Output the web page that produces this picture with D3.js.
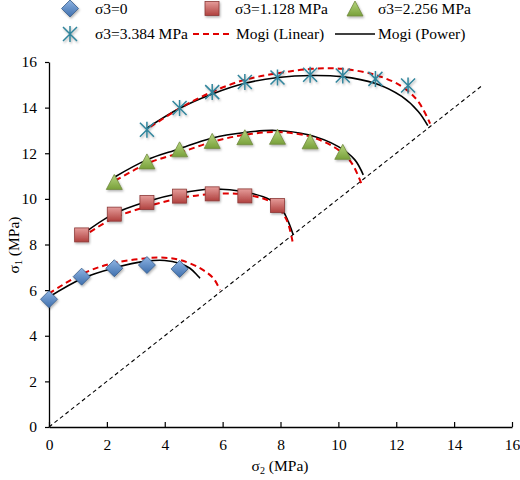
<!DOCTYPE html>
<html><head><meta charset="utf-8">
<script src="https://cdn.jsdelivr.net/npm/d3@7"></script>
<style>body{margin:0;background:#fff}svg{display:block}text{font-family:"Liberation Serif","Times New Roman",serif;fill:#000}</style>
</head><body>
<svg id="c" width="520" height="480"></svg>
<script>
// ---- data ----
const xTicks = [0,2,4,6,8,10,12,14,16];
const yTicks = [0,2,4,6,8,10,12,14,16];
const legendLabels = ["σ3=0","σ3=1.128 MPa","σ3=2.256 MPa","σ3=3.384 MPa","Mogi (Linear)","Mogi (Power)"];

const s0x = [0, 1.128, 2.256, 3.384, 4.512];
const s0y = [5.6, 6.59, 6.96, 7.1, 6.93];
const s1x = [1.128, 2.256, 3.384, 4.512, 5.64, 6.768, 7.896];
const s1y = [8.42, 9.33, 9.84, 10.12, 10.22, 10.13, 9.71];
const s2x = [2.256, 3.384, 4.512, 5.64, 6.768, 7.896, 9.024, 10.152];
const s2y = [10.72, 11.62, 12.15, 12.52, 12.68, 12.7, 12.5, 12.04];
const s3x = [3.384, 4.512, 5.64, 6.768, 7.896, 9.024, 10.152, 11.28, 12.408];
const s3y = [13.03, 13.98, 14.68, 15.12, 15.32, 15.44, 15.41, 15.26, 14.97];

const power0 = [[0,5.7],[1.13,6.5],[2.22,6.96],[3.38,7.27],[4.0,7.3],[4.5,7.18],[4.87,6.96],[5.22,6.52]];
const linear0 = [[0,5.85],[1.19,6.74],[2.22,7.18],[3.38,7.4],[4.0,7.42],[4.53,7.32],[5.22,6.96],[5.68,6.52],[5.91,6.0]];
const power1 = [[1.128,8.42],[2.22,9.33],[3.38,9.88],[4.53,10.25],[5.68,10.43],[6.71,10.32],[7.64,9.96],[8.1,9.44],[8.27,9.0],[8.44,8.42]];
const linear1 = [[1.128,8.3],[2.22,9.15],[3.38,9.66],[4.53,10.03],[5.68,10.22],[6.83,10.18],[7.75,9.81],[8.21,9.08],[8.42,8.1]];
const power2 = [[2.256,10.95],[3.38,11.71],[4.47,12.18],[5.62,12.66],[6.77,12.91],[7.81,13.0],[8.96,12.81],[10.0,12.29],[10.57,11.71],[10.86,11.05]];
const linear2 = [[2.3,10.8],[3.43,11.57],[4.47,12.0],[5.62,12.49],[6.77,12.81],[7.92,12.93],[9.08,12.71],[10.0,12.15],[10.46,11.57],[10.8,10.65]];
const power3 = [[3.384,13.1],[4.53,13.98],[5.62,14.59],[6.77,15.07],[7.92,15.32],[9.08,15.41],[10.11,15.36],[11.26,15.07],[12.19,14.49],[12.76,13.83],[13.09,13.21]];
const linear3 = [[3.5,13.15],[4.53,13.98],[5.62,14.68],[6.77,15.22],[7.92,15.51],[9.08,15.7],[10.11,15.7],[11.26,15.44],[12.19,14.93],[12.76,14.27],[13.17,13.3]];
const diagonal = [[0,0],[15,15]];

// ---- layout ----
const svg = d3.select("#c");
const x = d3.scaleLinear().domain([0,16]).range([49,512]);
const y = d3.scaleLinear().domain([0,16]).range([427,62]);
const FS = 15.5;

const defs = svg.append("defs");
function grad(id, c1, c2){
  const g = defs.append("linearGradient").attr("id",id).attr("x1",0).attr("y1",0).attr("x2",0).attr("y2",1);
  g.append("stop").attr("offset","0%").attr("stop-color",c1);
  g.append("stop").attr("offset","100%").attr("stop-color",c2);
}
grad("gBlue","#8db3e2","#3f6fad");
grad("gRed","#e59c9a","#b0413e");
grad("gGreen","#b7d67f","#78a03a");
const f = defs.append("filter").attr("id","sh").attr("x","-50%").attr("y","-50%").attr("width","200%").attr("height","200%");
f.append("feDropShadow").attr("dx",1).attr("dy",1.5).attr("stdDeviation",1.2).attr("flood-color","#000").attr("flood-opacity",0.3);

// axes
const xAxis = d3.axisBottom(x).tickValues(xTicks).tickSizeInner(-5).tickSizeOuter(0).tickPadding(12).tickFormat(d3.format("d"));
const gx = svg.append("g").attr("transform",`translate(0,${y(0)})`).call(xAxis);
const yAxis = d3.axisLeft(y).tickValues(yTicks).tickSizeInner(4).tickSizeOuter(0).tickPadding(8).tickFormat(d3.format("d"));
const gy = svg.append("g").attr("transform",`translate(${x(0)},0)`).call(yAxis);
[gx,gy].forEach(g=>{
  g.selectAll("path.domain").attr("stroke","#000").attr("stroke-width",1.3);
  g.selectAll(".tick line").attr("stroke","#000").attr("stroke-width",1.2);
  g.selectAll(".tick text").style("font-family",'"Liberation Serif",serif').style("font-size",FS+"px").attr("fill","#000");
});

// axis titles
const xt = svg.append("text").attr("x",280).attr("y",471).attr("text-anchor","middle").style("font-size",FS+"px");
xt.append("tspan").text("σ");
xt.append("tspan").text("2").style("font-size","10px").attr("dy",3);
xt.append("tspan").text(" (MPa)").attr("dy",-3);
const yt = svg.append("text").attr("transform","translate(19,245) rotate(-90)").attr("text-anchor","middle").style("font-size",FS+"px");
yt.append("tspan").text("σ");
yt.append("tspan").text("1").style("font-size","10px").attr("dy",3);
yt.append("tspan").text(" (MPa)").attr("dy",-3);

// lines
const line = d3.line().x(d=>x(d[0])).y(d=>y(d[1])).curve(d3.curveCatmullRom.alpha(0.5));
svg.append("path").datum(diagonal).attr("d",d3.line().x(d=>x(d[0])).y(d=>y(d[1])))
  .attr("fill","none").attr("stroke","#000").attr("stroke-width",1.1).attr("stroke-dasharray","4,3");
[power0,power1,power2,power3].forEach(p=>{
  svg.append("path").datum(p).attr("d",line).attr("fill","none").attr("stroke","#000").attr("stroke-width",1.6);
});
[linear0,linear1,linear2,linear3].forEach(p=>{
  svg.append("path").datum(p).attr("d",line).attr("fill","none").attr("stroke","#e00000").attr("stroke-width",2).attr("stroke-dasharray","6,4");
});

// markers
function diamond(g,cx,cy){ g.append("path").attr("d",`M${cx},${cy-8.5}L${cx+8.5},${cy}L${cx},${cy+8.5}L${cx-8.5},${cy}Z`).attr("fill","url(#gBlue)").attr("stroke","#385d8a").attr("stroke-width",0.8).attr("filter","url(#sh)"); }
function square(g,cx,cy){ g.append("rect").attr("x",cx-7).attr("y",cy-7).attr("width",14).attr("height",14).attr("fill","url(#gRed)").attr("stroke","#8c3836").attr("stroke-width",0.8).attr("filter","url(#sh)"); }
function triangle(g,cx,cy){ g.append("path").attr("d",`M${cx},${cy-8}L${cx+8},${cy+7}L${cx-8},${cy+7}Z`).attr("fill","url(#gGreen)").attr("stroke","#71893f").attr("stroke-width",0.8).attr("filter","url(#sh)"); }
function star(g,cx,cy){ const r=7; g.append("path").attr("d",`M${cx-r},${cy-r}L${cx+r},${cy+r}M${cx+r},${cy-r}L${cx-r},${cy+r}M${cx},${cy-r-1}L${cx},${cy+r+1}`).attr("stroke","#31859c").attr("stroke-width",1.5).attr("fill","none").attr("filter","url(#sh)"); }

const mg = svg.append("g");
s0x.forEach((v,i)=>diamond(mg,x(v),y(s0y[i])));
s1x.forEach((v,i)=>square(mg,x(v),y(s1y[i])));
s2x.forEach((v,i)=>triangle(mg,x(v),y(s2y[i])));
s3x.forEach((v,i)=>star(mg,x(v),y(s3y[i])));

// legend
const lg = svg.append("g");
diamond(lg,70,8.5); square(lg,212,8.5); triangle(lg,355,9); star(lg,70,34);
lg.append("line").attr("x1",193).attr("x2",233).attr("y1",34).attr("y2",34).attr("stroke","#e00000").attr("stroke-width",2).attr("stroke-dasharray","6,4");
lg.append("line").attr("x1",335).attr("x2",375).attr("y1",34).attr("y2",34).attr("stroke","#000").attr("stroke-width",1.6);
const lpos = [[95,8.5],[235,8.5],[378,8.5],[95,34],[236,34],[378,34]];
legendLabels.forEach((t,i)=>{
  lg.append("text").attr("x",lpos[i][0]).attr("y",lpos[i][1]).attr("dy","0.35em").style("font-size",FS+"px").text(t);
});
</script>
</body></html>
